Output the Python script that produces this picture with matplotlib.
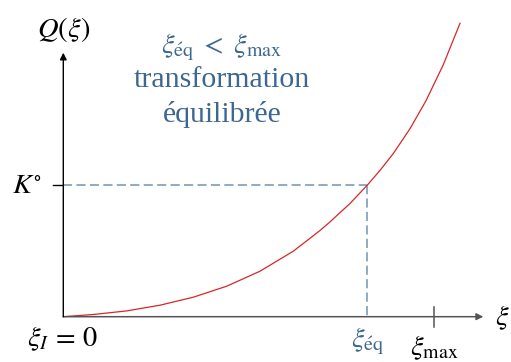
import matplotlib
matplotlib.use("Agg")
import matplotlib.pyplot as plt

plt.rcParams['mathtext.fontset'] = 'stix'
plt.rcParams['font.family'] = ['Liberation Serif', 'DejaVu Serif']

# Data (units: figure read-off, origin at xi_I = 0)
xi_curve = [0.0, 0.30, 0.634, 0.967, 1.30, 1.634, 1.967, 2.30, 2.45, 2.567, 2.667,
            2.867, 3.044, 3.167, 3.30, 3.467, 3.627, 3.80, 3.967]
Q_curve = [0.0, 0.022, 0.058, 0.115, 0.195, 0.305, 0.455, 0.655, 0.771, 0.862, 0.948,
           1.132, 1.32, 1.463, 1.632, 1.88, 2.16, 2.52, 2.934]
xi_eq = 3.04
xi_max = 3.71
K0 = 1.32
x_axis_end = 4.20
y_axis_end = 2.64

text_blue = '#3b6791'
dash_blue = '#6f93b8'
axis_gray = '#555555'

fig = plt.figure(figsize=(5.11, 3.62), dpi=100)
ax = fig.add_axes([0, 0, 1, 1])
ax.set_xlim(-0.633, 4.477)
ax.set_ylim(-0.453, 3.167)
ax.axis('off')

# axes arrows
ax.annotate('', xy=(x_axis_end, 0), xytext=(0, 0),
            arrowprops=dict(arrowstyle='-|>', color=axis_gray, lw=1.1,
                            mutation_scale=10, shrinkA=0, shrinkB=0))
ax.annotate('', xy=(0, y_axis_end), xytext=(0, 0),
            arrowprops=dict(arrowstyle='-|>', color='black', lw=1.0,
                            mutation_scale=10, shrinkA=0, shrinkB=0))

# ticks
ax.plot([xi_max, xi_max], [-0.10, 0.10], color=axis_gray, lw=1.1)
ax.plot([-0.10, 0], [K0, K0], color='black', lw=1.0)

# dashed guides
ax.plot([0, xi_eq], [K0, K0], color=dash_blue, lw=1.1, dashes=(6, 2.8))
ax.plot([xi_eq, xi_eq], [K0, 0], color=dash_blue, lw=1.1, dashes=(6, 2.8))

# curve
ax.plot(xi_curve, Q_curve, color='#d62728', lw=0.9, solid_joinstyle='round')

fs = 20.5
tfs = 21.5
ax.text(0, 2.87, r'$Q(\xi)$', ha='center', va='center', fontsize=fs)
ax.text(-0.36, 1.30, r'$K^{\circ}$', ha='center', va='center', fontsize=fs)
ax.text(4.39, -0.015, r'$\xi$', ha='center', va='center', fontsize=fs)
ax.text(-0.01, -0.30, r'$\xi_I\,=\,0$', ha='center', va='baseline', fontsize=fs)
ax.text(xi_eq, -0.31, r'$\xi_{\mathrm{\acute{e}q}}$', ha='center', va='baseline',
        fontsize=fs, color=text_blue)
ax.text(xi_max, -0.39, r'$\xi_{\mathrm{max}}$', ha='center', va='baseline', fontsize=fs)

cx = 1.585
ax.text(cx, 2.63, r'$\xi_{\mathrm{\acute{e}q}}\;<\;\xi_{\mathrm{max}}$', ha='center',
        va='baseline', fontsize=fs, color=text_blue)
ax.text(cx, 2.30, 'transformation', ha='center', va='baseline', fontsize=tfs,
        color=text_blue)
ax.text(cx, 1.95, 'équilibrée', ha='center', va='baseline', fontsize=tfs,
        color=text_blue)

fig.savefig('out.png', dpi=100)
